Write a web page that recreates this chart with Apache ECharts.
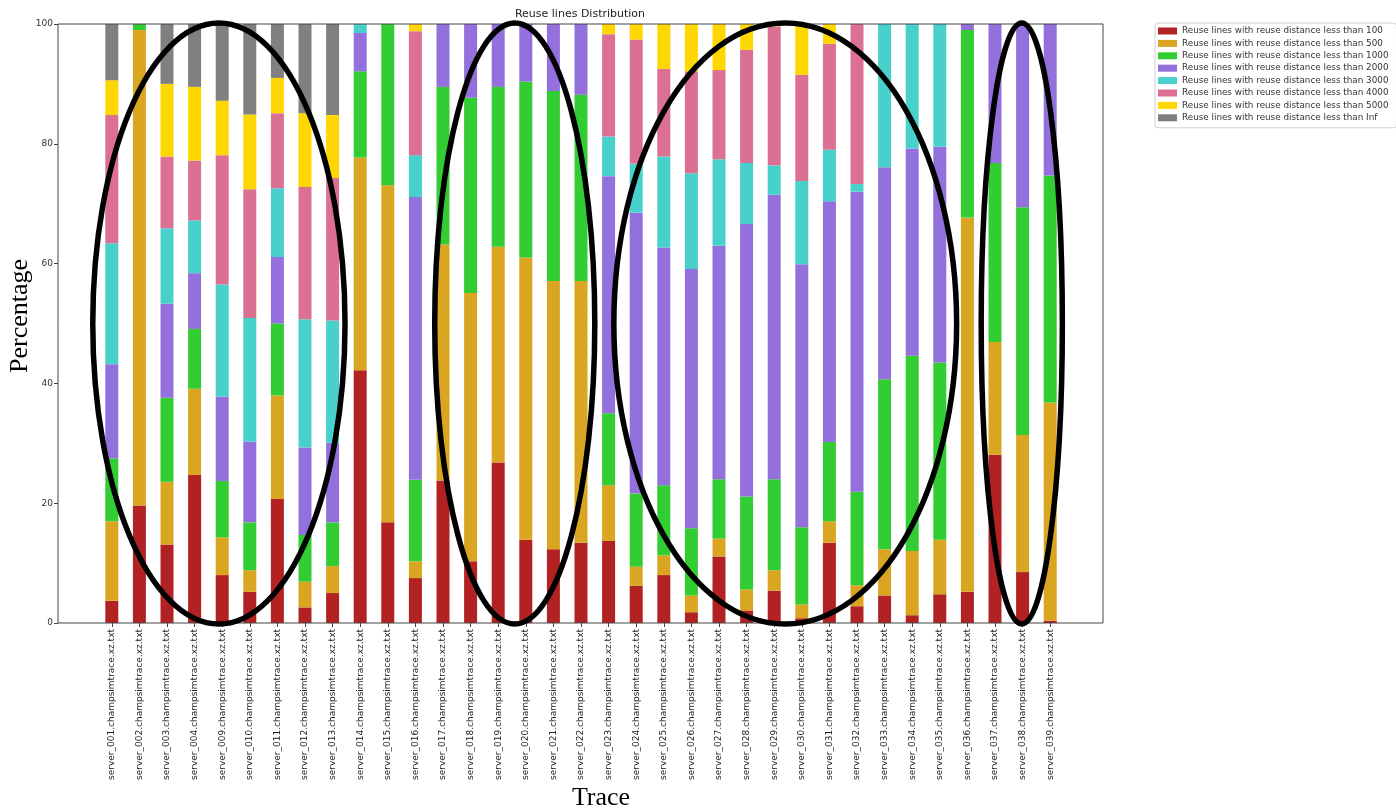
<!DOCTYPE html>
<html>
<head>
<meta charset="utf-8">
<script src="https://cdn.jsdelivr.net/npm/echarts@6/dist/echarts.min.js"></script>
<style>
  html, body { margin: 0; padding: 0; background: #fff; }
  #main { width: 1396px; height: 812px; }
</style>
</head>
<body>
<div id="main"></div>
<script>
// trace ids on the x axis
const traceIds = ['001','002','003','004','009','010','011','012','013','014','015','016','017','018','019','020','021','022','023','024','025','026','027','028','029','030','031','032','033','034','035','036','037','038','039'];
const categories = traceIds.map(id => 'server_' + id + '.champsimtrace.xz.txt');

const seriesNames = [
  'Reuse lines with reuse distance less than 100',
  'Reuse lines with reuse distance less than 500',
  'Reuse lines with reuse distance less than 1000',
  'Reuse lines with reuse distance less than 2000',
  'Reuse lines with reuse distance less than 3000',
  'Reuse lines with reuse distance less than 4000',
  'Reuse lines with reuse distance less than 5000',
  'Reuse lines with reuse distance less than Inf'
];

// percentage of each bucket per trace (stacked, sums to 100)
const lt100  = [3.7,19.6,13.1,24.7,8.0,5.2,20.7,2.6,5.0,42.2,16.8,7.5,23.8,10.3,26.8,13.9,12.3,13.4,13.7,6.2,8.0,1.8,11.1,2.1,5.4,0.8,13.4,2.8,4.6,1.3,4.8,5.2,28.1,8.5,0.4];
const lt500  = [13.3,79.4,10.5,14.4,6.3,3.6,17.3,4.3,4.5,35.5,56.3,2.8,39.4,44.8,36.0,47.1,44.8,43.7,9.3,3.2,3.3,2.8,3.0,3.5,3.4,2.3,3.6,3.5,7.7,10.7,9.1,62.5,18.8,22.9,36.4];
const lt1000 = [10.5,1.0,14.0,10.0,9.4,8.0,12.0,7.8,7.3,14.4,26.9,13.6,26.3,32.6,26.7,29.4,31.7,31.1,12.0,12.2,11.7,11.2,9.9,15.5,15.2,12.9,13.2,15.6,28.4,32.6,29.6,31.3,29.9,38.0,37.9];
const lt2000 = [15.7,0,15.7,9.3,14.1,13.5,11.1,14.6,13.3,6.4,0,47.2,10.5,12.3,10.5,9.6,11.2,11.8,39.6,46.9,39.7,43.3,39.0,45.5,47.5,43.9,40.2,50.1,35.4,34.6,36.0,1.0,23.2,30.6,25.3];
const lt3000 = [20.2,0,12.6,8.8,18.7,20.6,11.5,21.4,20.4,1.5,0,7.0,0,0,0,0,0,0,6.6,8.2,15.2,16.0,14.4,10.2,4.9,13.9,8.6,1.3,23.9,20.8,20.5,0,0,0,0];
const lt4000 = [21.4,0,12.0,10.0,21.6,21.5,12.5,22.1,23.8,0,0,20.7,0,0,0,0,0,0,17.1,20.7,14.6,17.0,14.9,18.9,23.2,17.7,17.7,26.7,0,0,0,0,0,0,0];
const lt5000 = [5.8,0,12.1,12.3,9.1,12.5,5.9,12.3,10.5,0,0,1.2,0,0,0,0,0,0,1.7,2.6,7.5,7.9,7.7,4.3,0.4,8.5,3.3,0,0,0,0,0,0,0,0];
const ltInf  = [9.4,0,10.0,10.5,12.8,15.1,9.0,14.9,15.2,0,0,0,0,0,0,0,0,0,0,0,0,0,0,0,0,0,0,0,0,0,0,0,0,0,0];

const yTicks = [0, 20, 40, 60, 80, 100];

// hand drawn ellipses (center index, half width in categories)
const ringCenters = [3.88, 14.6, 24.4, 32.97];
const ringHalfWidths = [4.57, 2.9, 6.21, 1.47];

const colors = ['#b22222', '#daa520', '#32cd32', '#9370db', '#48d1cc', '#db7093', '#ffd700', '#808080'];
const values = [lt100, lt500, lt1000, lt2000, lt3000, lt4000, lt5000, ltInf];

let chart = echarts.init(document.getElementById('main'));

let series = seriesNames.map((name, i) => ({
  name: name,
  type: 'bar',
  stack: 'total',
  barWidth: 13,
  data: values[i],
  itemStyle: { color: colors[i] }
}));

let option = {
  backgroundColor: '#fff',
  animation: false,
  color: colors,
  textStyle: { fontFamily: 'DejaVu Sans' },
  grid: { left: 98, width: 966, top: 24, height: 599 },
  legend: {
    orient: 'vertical',
    left: 1155,
    top: 23,
    icon: 'rect',
    itemWidth: 19,
    itemHeight: 7,
    itemGap: 2.4,
    padding: [3, 8, 5, 3],
    borderColor: '#d0d0d0',
    borderWidth: 1,
    borderRadius: 3,
    textStyle: { fontSize: 8.8, color: '#333', lineHeight: 10, fontFamily: 'DejaVu Sans' },
    data: seriesNames
  },
  xAxis: {
    type: 'category',
    data: categories,
    axisLine: { show: false },
    axisTick: { show: true, alignWithLabel: true, length: 4, lineStyle: { color: '#444' } },
    axisLabel: { rotate: 90, interval: 0, fontSize: 9, color: '#222', margin: 6 },
    splitLine: { show: false }
  },
  yAxis: {
    type: 'value',
    min: 0,
    max: 100,
    interval: 20,
    offset: 40,
    axisLine: { show: false },
    axisTick: { show: true, length: 4, lineStyle: { color: '#444' } },
    axisLabel: { fontSize: 9, color: '#333', margin: 5, formatter: v => yTicks.includes(v) ? String(v) : '' },
    splitLine: { show: false }
  },
  series: series
};

chart.setOption(option);

// axes frame, titles and ellipses
let toPx = (x, y) => chart.convertToPixel({ xAxisIndex: 0, yAxisIndex: 0 }, [x, y]);
let plotTop = toPx(0, 100)[1], plotBottom = toPx(0, 0)[1];
let x0 = toPx(0, 0)[0];
let step = toPx(1, 0)[0] - x0;
let midY = toPx(0, 50)[1];

let graphics = [
  {
    type: 'rect', z: 5,
    shape: { x: 58, y: plotTop, width: 1045, height: plotBottom - plotTop },
    style: { fill: 'none', stroke: '#444', lineWidth: 1 }
  },
  {
    type: 'text', z: 5, x: 580, y: 14,
    style: { text: 'Reuse lines Distribution', font: '11px "DejaVu Sans"', fill: '#222', textAlign: 'center', textVerticalAlign: 'middle' }
  },
  {
    type: 'text', z: 5, x: 601, y: 798,
    style: { text: 'Trace', font: '26px "Liberation Serif"', fill: '#000', textAlign: 'center', textVerticalAlign: 'middle' }
  },
  {
    type: 'text', z: 5, x: 20, y: 316, rotation: Math.PI / 2,
    style: { text: 'Percentage', font: '26px "Liberation Serif"', fill: '#000', textAlign: 'center', textVerticalAlign: 'middle' }
  }
];

// category axis rounds fractional indices, so place ring centers from the step
ringCenters.forEach((c, i) => {
  graphics.push({
    type: 'ellipse', z: 10,
    shape: { cx: x0 + c * step, cy: midY, rx: ringHalfWidths[i] * step, ry: (plotBottom - plotTop) / 2 + 1 },
    style: { fill: 'none', stroke: '#000', lineWidth: 5.5 }
  });
});

chart.setOption({ graphic: graphics });
</script>
</body>
</html>
